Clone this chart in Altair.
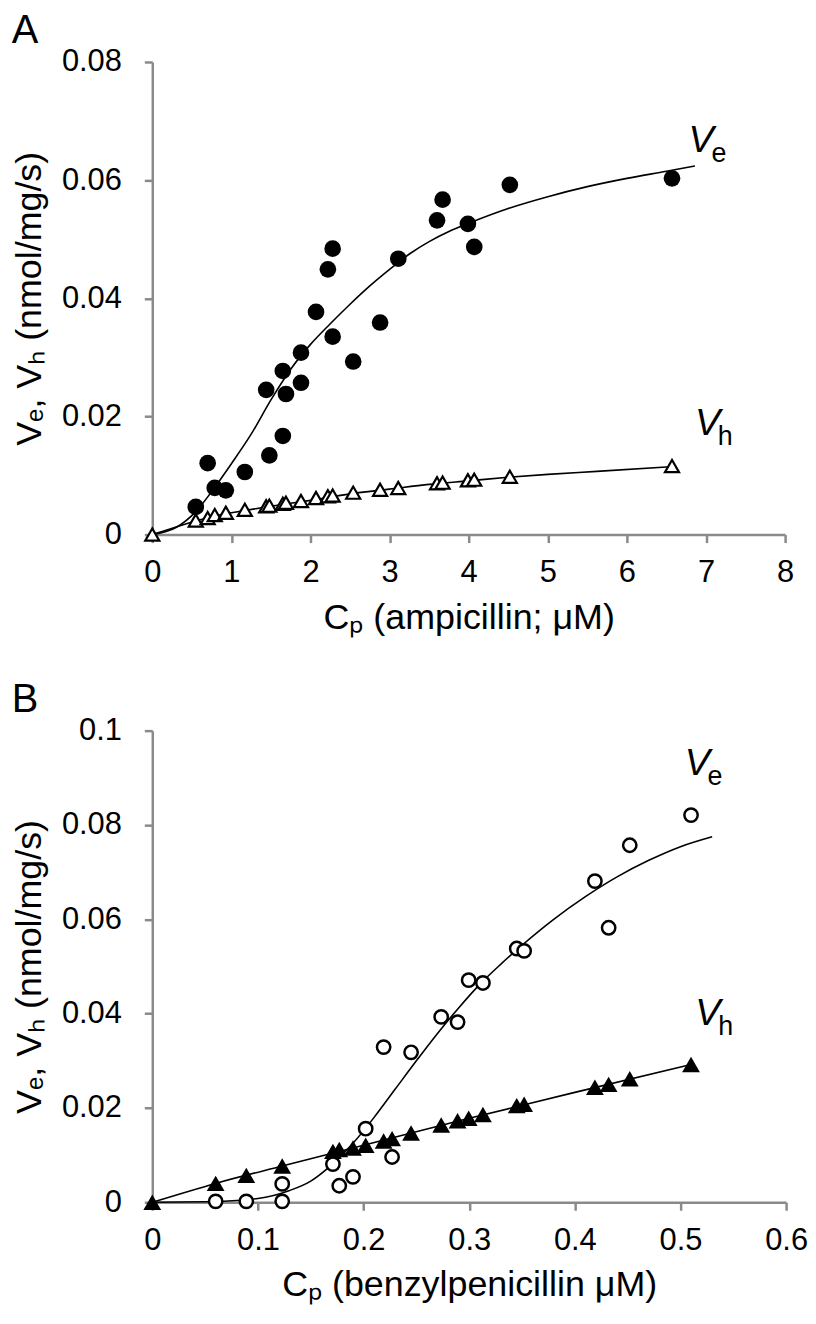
import altair as alt
import pandas as pd

FONT = "Liberation Sans"
AXIS_GRAY = "#8a8a8a"

# ---------------- Panel A (ampicillin) ----------------
a_ve_x = [0.55, 0.70, 0.79, 0.93, 1.17, 1.44, 1.48, 1.65, 1.69, 1.65, 1.88, 1.88, 2.07, 2.22, 2.28, 2.28,
          2.54, 2.88, 3.11, 3.60, 3.67, 3.99, 4.07, 4.52, 6.57]
a_ve_y = [0.0047, 0.0121, 0.0079, 0.0075, 0.0106, 0.0245, 0.0134, 0.0277, 0.0238, 0.0167, 0.0308, 0.0257,
          0.0377, 0.0449, 0.0484, 0.0335, 0.0293, 0.0359, 0.0467, 0.0532, 0.0567, 0.0526, 0.0487, 0.0592, 0.0603]

a_vh_x = [0.0, 0.55, 0.70, 0.79, 0.93, 1.17, 1.44, 1.48, 1.65, 1.69, 1.88, 2.07, 2.22, 2.28, 2.54, 2.88,
          3.11, 3.60, 3.67, 3.99, 4.07, 4.52, 6.57]
a_vh_y = [0.0, 0.0024, 0.0028, 0.0033, 0.0037, 0.0042, 0.0048, 0.0049, 0.0052, 0.0054, 0.0057, 0.0062,
          0.0065, 0.0066, 0.0071, 0.0076, 0.0079, 0.0087, 0.0088, 0.0092, 0.0093, 0.0098, 0.0116]

a_fit_ve_x = [0.0, 0.3, 0.55, 0.8, 1.0, 1.25, 1.5, 1.75, 2.0, 2.25, 2.5, 2.75, 3.0, 3.25, 3.5, 3.75, 4.0,
              4.5, 5.0, 5.5, 6.0, 6.5, 6.86]
a_fit_ve_y = [0.0, 0.0012, 0.0039, 0.0082, 0.0120, 0.0170, 0.0228, 0.0280, 0.0322, 0.0357, 0.0390, 0.0421,
              0.0449, 0.0475, 0.0496, 0.0513, 0.0527, 0.0552, 0.0572, 0.0589, 0.0603, 0.0615, 0.0624]

a_fit_vh_x = [0.0, 0.3, 0.55, 0.8, 1.0, 1.5, 2.0, 2.5, 3.0, 3.5, 4.0, 4.5, 5.0, 5.62, 6.57]
a_fit_vh_y = [0.0, 0.0013, 0.0023, 0.0032, 0.0037, 0.0048, 0.0058, 0.0069, 0.0077, 0.0085, 0.0091,
              0.0097, 0.0102, 0.0107, 0.0115]

a_lab_x = [6.78, 6.86]
a_lab_y = [0.0647, 0.0168]
a_lab_sub = ["e", "h"]

# ---------------- Panel B (benzylpenicillin) ----------------
b_ve_x = [0.060, 0.089, 0.123, 0.123, 0.171, 0.177, 0.190, 0.202, 0.219, 0.227, 0.245, 0.2735, 0.289,
          0.2995, 0.313, 0.345, 0.352, 0.419, 0.432, 0.452, 0.510]
b_ve_y = [0.0002, 0.0002, 0.0002, 0.0039, 0.0081, 0.0035, 0.0054, 0.0156, 0.0329, 0.0096, 0.0318, 0.0393,
          0.0382, 0.0471, 0.0465, 0.0538, 0.0533, 0.0681, 0.0582, 0.0757, 0.0821]

b_vh_x = [0.0, 0.060, 0.089, 0.123, 0.171, 0.177, 0.190, 0.202, 0.219, 0.227, 0.245, 0.2735, 0.289,
          0.2995, 0.313, 0.345, 0.352, 0.419, 0.432, 0.452, 0.510]
b_vh_y = [0.0, 0.0040, 0.0057, 0.0077, 0.0108, 0.0112, 0.0115, 0.0121, 0.0130, 0.0135, 0.0147, 0.0164,
          0.0173, 0.0178, 0.0186, 0.0205, 0.0208, 0.0244, 0.0250, 0.0262, 0.0292]

b_fit_ve_x = [0.0, 0.05, 0.10, 0.13, 0.15, 0.17, 0.19, 0.21, 0.23, 0.25, 0.27, 0.29, 0.31, 0.33, 0.35,
              0.38, 0.41, 0.44, 0.47, 0.50, 0.53]
b_fit_ve_y = [0.0, 0.0001, 0.0008, 0.0025, 0.0045, 0.0080, 0.0125, 0.0180, 0.0240, 0.0300, 0.0358,
              0.0412, 0.0462, 0.0505, 0.0545, 0.0600, 0.0648, 0.0690, 0.0725, 0.0754, 0.0775]

b_fit_vh_x = [0.0, 0.06, 0.123, 0.2, 0.3, 0.4, 0.51]
b_fit_vh_y = [0.0, 0.0040, 0.0077, 0.0121, 0.0178, 0.0233, 0.0292]

b_lab_x = [0.504, 0.514]
b_lab_y = [0.0905, 0.0376]
b_lab_sub = ["e", "h"]


def panel(letter, xdom, xticks, ydom, yticks, xtitle, w, h,
          ve_x, ve_y, vh_x, vh_y, fe_x, fe_y, fh_x, fh_y, lx, ly, lsub,
          ve_mark, vh_mark, ve_first, ytitle_pad):
    X = alt.X("x:Q", scale=alt.Scale(domain=xdom, nice=False, zero=False),
              axis=alt.Axis(values=xticks, format="~g", title=xtitle, labelPadding=15,
                            titlePadding=13, labelFlush=False))
    Y = alt.Y("y:Q", scale=alt.Scale(domain=ydom, nice=False, zero=False),
              axis=alt.Axis(values=yticks, format="~g", title="Vₑ, Vₕ (nmol/mg/s)",
                            labelPadding=23, titlePadding=ytitle_pad))

    fe = pd.DataFrame({"x": fe_x, "y": fe_y})
    fh = pd.DataFrame({"x": fh_x, "y": fh_y})
    ve = pd.DataFrame({"x": ve_x, "y": ve_y})
    vh = pd.DataFrame({"x": vh_x, "y": vh_y})
    lab = pd.DataFrame({"x": lx, "y": ly, "v": ["V", "V"], "s": lsub})

    line_e = alt.Chart(fe).mark_line(color="black", strokeWidth=1.6, interpolate="monotone").encode(x=X, y=Y)
    line_h = alt.Chart(fh).mark_line(color="black", strokeWidth=1.6, interpolate="monotone").encode(x=X, y=Y)
    pe = alt.Chart(ve).mark_point(**ve_mark).encode(x=X, y=Y)
    ph = alt.Chart(vh).mark_point(**vh_mark).encode(x=X, y=Y)
    tv = alt.Chart(lab).mark_text(font=FONT, fontSize=38, fontStyle="italic", align="left",
                                  baseline="alphabetic", color="black").encode(x=X, y=Y, text="v:N")
    ts = alt.Chart(lab).mark_text(font=FONT, fontSize=27, align="left", baseline="alphabetic",
                                  dx=23, dy=10, color="black").encode(x=X, y=Y, text="s:N")
    pts = [pe, ph] if ve_first else [ph, pe]
    return alt.layer(line_e, line_h, *pts, tv, ts).properties(
        width=w, height=h,
        title=alt.TitleParams(letter, anchor="start", frame="bounds", fontSize=40,
                              fontWeight="normal", font=FONT, color="black", offset=-5),
    )


A = panel("A", [0, 8], list(range(0, 9)), [0, 0.08], [0, 0.02, 0.04, 0.06, 0.08],
          "Cₚ (ampicillin; μM)", 636, 475,
          a_ve_x, a_ve_y, a_vh_x, a_vh_y, a_fit_ve_x, a_fit_ve_y, a_fit_vh_x, a_fit_vh_y,
          a_lab_x, a_lab_y, a_lab_sub,
          dict(shape="circle", filled=True, fill="black", color="black", size=280, opacity=1),
          dict(shape="triangle-up", filled=True, fill="white", stroke="black", strokeWidth=2.2,
               size=200, opacity=1),
          True, 13)

B = panel("B", [0, 0.6], [0, 0.1, 0.2, 0.3, 0.4, 0.5, 0.6], [0, 0.1], [0, 0.02, 0.04, 0.06, 0.08, 0.1],
          "Cₚ (benzylpenicillin μM)", 637, 474,
          b_ve_x, b_ve_y, b_vh_x, b_vh_y, b_fit_ve_x, b_fit_ve_y, b_fit_vh_x, b_fit_vh_y,
          b_lab_x, b_lab_y, b_lab_sub,
          dict(shape="circle", filled=True, fill="white", stroke="black", strokeWidth=2.5,
               size=180, opacity=1),
          dict(shape="triangle-up", filled=True, fill="black", color="black", size=320, opacity=1),
          False, 13)

chart = alt.vconcat(A, B, spacing=45).properties(
    padding={"left": 3, "top": 0, "right": 0, "bottom": 2}
).configure_view(stroke=None).configure_axis(
    grid=False, domainColor=AXIS_GRAY, domainWidth=2.5, tickColor=AXIS_GRAY, tickWidth=2.5,
    tickSize=8, labelFont=FONT, labelFontSize=31, labelColor="black", titleFont=FONT,
    titleFontSize=36, titleFontWeight="normal", titleColor="black"
)

chart.save("out.html", embed_options={"renderer": "svg", "actions": False})
